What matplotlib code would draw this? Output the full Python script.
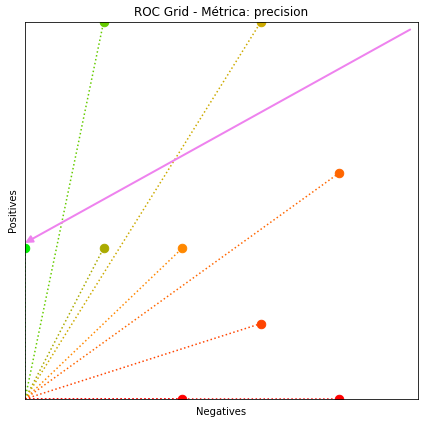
import matplotlib
matplotlib.use("Agg")
import matplotlib.pyplot as plt

negatives = [0, 1, 2, 1, 3, 4, 3, 2, 4]
positives = [2, 2, 2, 5, 5, 3, 1, 0, 0]
colors = ["#00ee00", "#aaaa00", "#ff8800", "#66cc00", "#ccaa00",
          "#ff6600", "#ff4400", "#ff0000", "#ff0000"]
arrow_start = (4.9, 4.9)
arrow_end = (0.0, 2.07)

fig = plt.figure(figsize=(424 / 72, 424 / 72), dpi=72)
ax = fig.add_axes([25 / 424, 1 - 399 / 424, 393 / 424, 377 / 424])

for n, p, c in zip(negatives, positives, colors):
    ax.plot([0, n], [0, p], linestyle=":", color=c, linewidth=1.5)
    ax.plot([n], [p], "o", color=c, markersize=8.5)

ax.annotate("", xy=arrow_end, xytext=arrow_start,
            arrowprops=dict(arrowstyle="-|>", color="violet", lw=2,
                            mutation_scale=15, shrinkA=0, shrinkB=0))

ax.set_xlim(0, 5)
ax.set_ylim(0, 5)
ax.set_xticks([])
ax.set_yticks([])
ax.set_xlabel("Negatives", fontsize=10, labelpad=8)
ax.set_ylabel("Positives", fontsize=10, labelpad=7)
ax.set_title("ROC Grid - Métrica: precision", fontsize=12)

fig.savefig("out.png", dpi=72)
